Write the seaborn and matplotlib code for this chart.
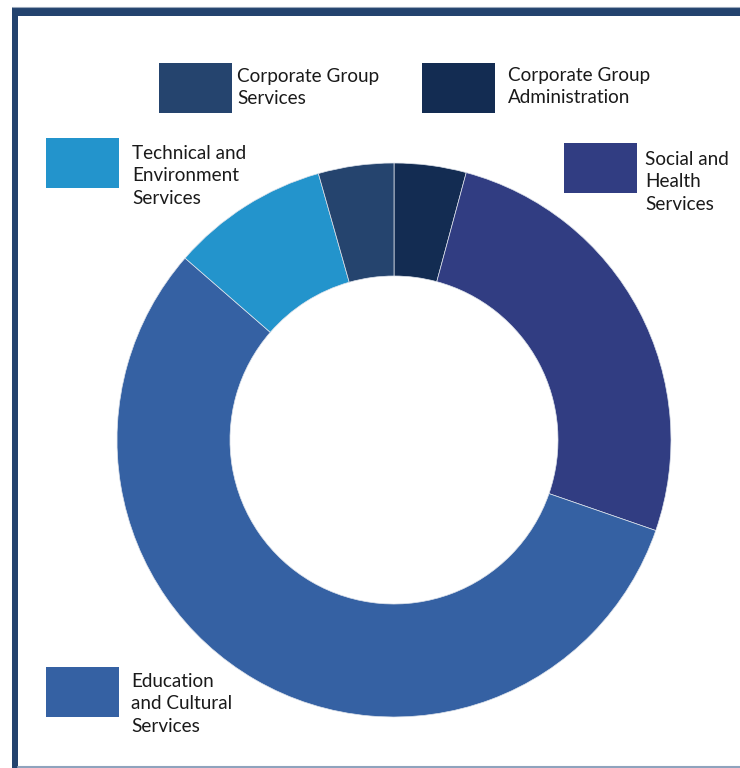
import matplotlib.pyplot as plt
import seaborn as sns
from matplotlib.patches import Rectangle

# shares of the budget, clockwise from 12 o'clock
departments = [
    "Corporate Group\nAdministration",
    "Social and\nHealth\nServices",
    "Education\nand Cultural\nServices",
    "Technical and\nEnvironment\nServices",
    "Corporate Group\nServices",
]
shares = [4.2, 26.1, 56.1, 9.2, 4.4]
colors = ["#132c52", "#313d82", "#3561a3", "#2394cc", "#25446e"]

# legend box (left, top) and text (x, top), in pixels from top-left
legend_boxes = [(422, 63), (564, 143), (46, 667), (46, 138), (159, 63)]
legend_text = [(508, 67), (645, 151), (131, 673), (132, 145), (237, 68)]

W, H = 740, 768
sns.set_theme(style="white")
plt.rcParams["font.family"] = ["Lato", "DejaVu Sans"]

fig = plt.figure(figsize=(W / 100, H / 100), dpi=100)
ax = fig.add_axes([0, 0, 1, 1])

# donut
cx, cy, R = 394, H - 440, 277
ax.pie(
    shares,
    colors=colors,
    startangle=90,
    counterclock=False,
    center=(cx, cy),
    radius=R,
    wedgeprops=dict(width=113, edgecolor="#dfe4ec", linewidth=0.5),
    frame=True,
)
ax.set_xlim(0, W)
ax.set_ylim(0, H)
ax.set_aspect("equal")
ax.axis("off")

# frame
frame = "#23436e"
ax.add_patch(Rectangle((12, H - 16), W - 12, 9, color=frame, lw=0))
ax.add_patch(Rectangle((12, 0), 6, H - 7, color=frame, lw=0))
ax.plot([18, W], [1, 1], color="#8fa3bd", lw=1.5)
ax.plot([12, W], [H - 7, H - 7], color="#9aa8bb", lw=0.8)

# legend
for (bx, by), (tx, ty), label, c in zip(legend_boxes, legend_text, departments, colors):
    ax.add_patch(Rectangle((bx, H - by - 50), 73, 50, color=c, lw=0))
    ax.text(tx, H - ty, label, ha="left", va="top", fontsize=13.6,
            color="#1a1a1a", linespacing=1.38)

fig.savefig("out.png", dpi=100)
